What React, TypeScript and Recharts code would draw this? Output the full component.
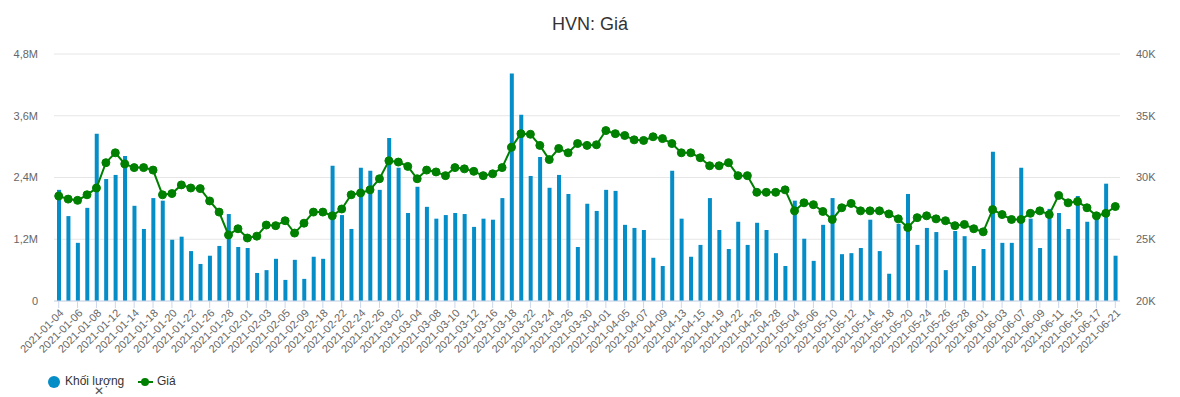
import {
  ComposedChart,
  Bar,
  Line,
  XAxis,
  YAxis,
  CartesianGrid,
} from 'recharts'

// trading days, 2021
const dates = [
  '2021-01-04', '2021-01-05', '2021-01-06', '2021-01-07', '2021-01-08', '2021-01-11', '2021-01-12', '2021-01-13',
  '2021-01-14', '2021-01-15', '2021-01-18', '2021-01-19', '2021-01-20', '2021-01-21', '2021-01-22', '2021-01-25',
  '2021-01-26', '2021-01-27', '2021-01-28', '2021-01-29',
  '2021-02-01', '2021-02-02', '2021-02-03', '2021-02-04', '2021-02-05', '2021-02-08', '2021-02-09', '2021-02-17',
  '2021-02-18', '2021-02-19', '2021-02-22', '2021-02-23', '2021-02-24', '2021-02-25', '2021-02-26',
  '2021-03-01', '2021-03-02', '2021-03-03', '2021-03-04', '2021-03-05', '2021-03-08', '2021-03-09', '2021-03-10',
  '2021-03-11', '2021-03-12', '2021-03-15', '2021-03-16', '2021-03-17', '2021-03-18', '2021-03-19', '2021-03-22',
  '2021-03-23', '2021-03-24', '2021-03-25', '2021-03-26', '2021-03-29', '2021-03-30', '2021-03-31',
  '2021-04-01', '2021-04-02', '2021-04-05', '2021-04-06', '2021-04-07', '2021-04-08', '2021-04-09', '2021-04-12',
  '2021-04-13', '2021-04-14', '2021-04-15', '2021-04-16', '2021-04-19', '2021-04-20', '2021-04-22', '2021-04-23',
  '2021-04-26', '2021-04-27', '2021-04-28', '2021-04-29',
  '2021-05-04', '2021-05-05', '2021-05-06', '2021-05-07', '2021-05-10', '2021-05-11', '2021-05-12', '2021-05-13',
  '2021-05-14', '2021-05-17', '2021-05-18', '2021-05-19', '2021-05-20', '2021-05-21', '2021-05-24', '2021-05-25',
  '2021-05-26', '2021-05-27', '2021-05-28', '2021-05-31',
  '2021-06-01', '2021-06-02', '2021-06-03', '2021-06-04', '2021-06-07', '2021-06-08', '2021-06-09', '2021-06-10',
  '2021-06-11', '2021-06-14', '2021-06-15', '2021-06-16', '2021-06-17', '2021-06-18', '2021-06-21',
]

// Khối lượng (shares)
const volumes = [
  2160000, 1650000, 1130000, 1810000, 3250000, 2370000, 2450000, 2820000, 1850000, 1400000,
  2000000, 1950000, 1190000, 1250000, 970000, 720000, 880000, 1070000, 1690000, 1050000,
  1030000, 545000, 600000, 820000, 410000, 800000, 430000, 860000, 820000, 2630000,
  1670000, 1400000, 2590000, 2530000, 2160000, 3170000, 2590000, 1710000, 2220000, 1830000,
  1600000, 1670000, 1710000, 1690000, 1440000, 1600000, 1580000, 2000000, 4420000, 3620000,
  2430000, 2800000, 2200000, 2450000, 2080000, 1050000, 1890000, 1750000, 2160000, 2140000,
  1480000, 1420000, 1380000, 840000, 680000, 2530000, 1600000, 860000, 1090000, 2000000,
  1380000, 1010000, 1540000, 1090000, 1520000, 1380000, 930000, 680000, 1950000, 1210000,
  780000, 1480000, 2000000, 910000, 930000, 1030000, 1580000, 970000, 530000, 1500000,
  2080000, 1090000, 1420000, 1340000, 600000, 1360000, 1260000, 680000, 1010000, 2900000,
  1130000, 1130000, 2590000, 1600000, 1030000, 1790000, 1710000, 1400000, 2040000, 1540000,
  1680000, 2280000, 880000,
]

// Giá (VND)
const prices = [
  28500, 28250, 28150, 28600, 29150, 31200, 32000, 31100, 30800, 30800,
  30600, 28600, 28700, 29400, 29150, 29100, 28100, 27200, 25350, 25850,
  25100, 25250, 26150, 26100, 26500, 25500, 26300, 27200, 27200, 26900,
  27450, 28600, 28750, 29000, 29900, 31350, 31250, 30900, 29900, 30600,
  30450, 30150, 30800, 30700, 30500, 30150, 30300, 30800, 32450, 33550,
  33500, 32600, 31450, 32350, 32000, 32750, 32600, 32650, 33800, 33550,
  33400, 33050, 33000, 33300, 33150, 32750, 32000, 32000, 31600, 30950,
  30950, 31200, 30150, 30150, 28800, 28800, 28800, 29000, 27300, 27950,
  27800, 27250, 26600, 27550, 27900, 27300, 27300, 27300, 27050, 26650,
  25950, 26750, 26900, 26650, 26500, 26100, 26200, 25850, 25600, 27400,
  27000, 26600, 26600, 27100, 27300, 27000, 28550, 27950, 28050, 27550,
  26900, 27100, 27650,
]

const volTicks = [0, 1200000, 2400000, 3600000, 4800000]
const priceTicks = [20000, 25000, 30000, 35000, 40000]

const BLUE = '#058DC7'
const GREEN = '#008000'
const FONT = '"Liberation Sans", Arial, Helvetica, sans-serif'

const data = dates.map((date, i) => ({ date, volume: volumes[i], price: prices[i] }))

function fmtVol(v: number) {
  if (v === 0) return '0'
  return (v / 1e6).toFixed(1).replace('.', ',') + 'M'
}

function DateTick(props: any) {
  const { x, y, payload } = props
  return (
    <text
      transform={`translate(${x + 3},${y + 1}) rotate(-45)`}
      textAnchor="end"
      dy="0.35em"
      fill="#666"
      fontSize={11}
      fontFamily={FONT}
    >
      {payload.value}
    </text>
  )
}

export default function App() {
  return (
    <div
      style={{
        position: 'absolute',
        left: 0,
        top: 0,
        width: 1180,
        height: 397,
        background: '#fff',
        fontFamily: FONT,
        overflow: 'hidden',
      }}
    >
      <div
        style={{
          position: 'absolute',
          top: 14,
          left: 0,
          width: 1180,
          textAlign: 'center',
          fontSize: 18,
          color: '#333',
        }}
      >
        HVN: Giá
      </div>

      <ComposedChart
        width={1180}
        height={397}
        data={data}
        margin={{ top: 54, right: 0, bottom: 36, left: 0 }}
      >
        <CartesianGrid vertical={false} stroke="#e6e6e6" yAxisId="vol" />
        <XAxis
          dataKey="date"
          interval={1}
          height={60}
          tick={<DateTick />}
          tickSize={7}
          tickLine={{ stroke: '#ccd6eb' }}
          axisLine={{ stroke: '#ccd6eb' }}
        />
        <YAxis
          yAxisId="vol"
          orientation="left"
          width={54}
          domain={[0, 4800000]}
          ticks={volTicks}
          tickFormatter={fmtVol}
          axisLine={false}
          tickLine={false}
          tickMargin={10}
          tick={{ fill: '#666', fontSize: 11, fontFamily: FONT }}
        />
        <YAxis
          yAxisId="price"
          orientation="right"
          width={60}
          domain={[20000, 40000]}
          ticks={priceTicks}
          tickFormatter={(v: number) => v / 1000 + 'K'}
          axisLine={false}
          tickLine={false}
          tickMargin={10}
          tick={{ fill: '#666', fontSize: 11, fontFamily: FONT, textAnchor: 'start' }}
        />
        <Bar yAxisId="vol" dataKey="volume" fill={BLUE} barSize={4} isAnimationActive={false} />
        <Line
          yAxisId="price"
          type="linear"
          dataKey="price"
          stroke={GREEN}
          strokeWidth={2}
          dot={{ r: 4, fill: GREEN, stroke: GREEN, strokeWidth: 1 }}
          activeDot={false}
          isAnimationActive={false}
        />
      </ComposedChart>

      {/* legend */}
      <div style={{ position: 'absolute', left: 48, top: 376, width: 12, height: 12, borderRadius: '50%', background: BLUE }} />
      <div style={{ position: 'absolute', left: 65, top: 374, fontSize: 12, color: '#333' }}>
        Khối lượng
      </div>
      <div style={{ position: 'absolute', left: 138, top: 381, width: 15, height: 2, background: GREEN }} />
      <div style={{ position: 'absolute', left: 141, top: 378, width: 8, height: 8, borderRadius: '50%', background: GREEN }} />
      <div style={{ position: 'absolute', left: 157, top: 374, fontSize: 12, color: '#333' }}>
        Giá
      </div>
      <div style={{ position: 'absolute', left: 94, top: 386, fontSize: 12, lineHeight: '11px', color: '#555' }}>✕</div>
    </div>
  )
}
